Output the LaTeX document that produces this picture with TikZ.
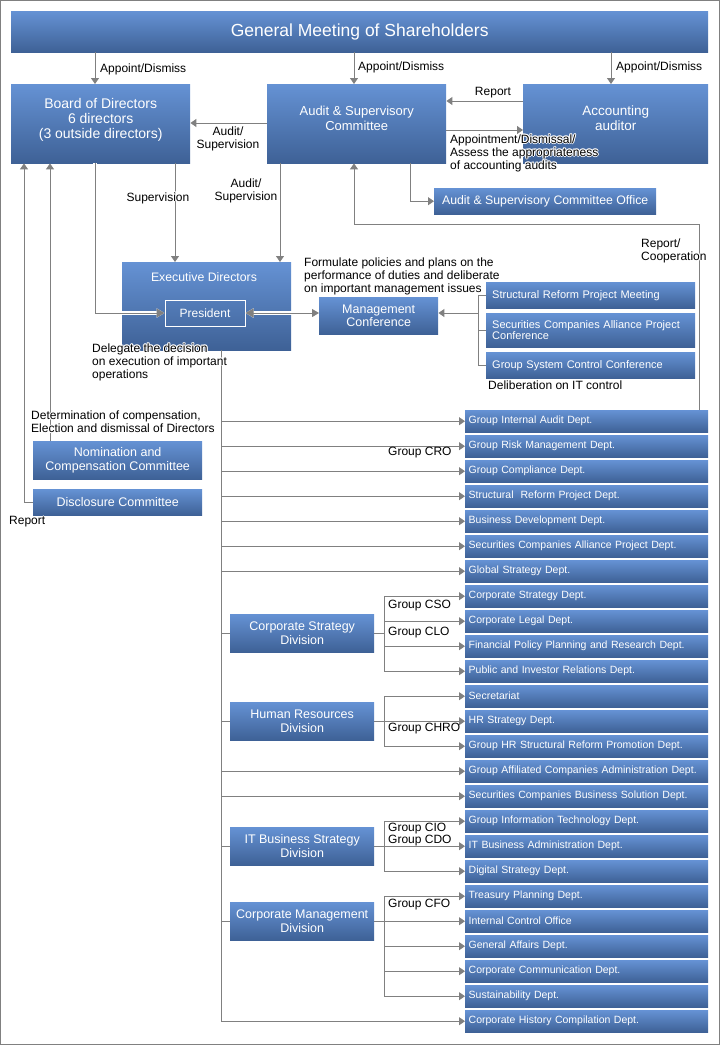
\documentclass[tikz,border=0pt]{standalone}
\usepackage{fontspec}
\setmainfont{Liberation Sans}
\usetikzlibrary{arrows.meta,calc}
\definecolor{bxtop}{RGB}{101,146,212}
\definecolor{bxbot}{RGB}{62,97,150}
\definecolor{lncol}{RGB}{128,128,128}
\tikzset{
  box/.style={anchor=north west, top color=bxtop, bottom color=bxbot, draw=none, text=white, inner sep=0pt, align=center},
  btxt/.style={text=white, inner sep=0pt, align=center},
  dept/.style={box, minimum width=243pt, minimum height=22pt, text width=236pt, inner xsep=3.5pt, align=left, font=\fontsize{10.5}{12}\selectfont},
  conf/.style={box, minimum width=209pt, text width=197pt, inner xsep=6pt, align=left, font=\fontsize{11}{11}\selectfont},
  divbox/.style={box, minimum width=144pt, minimum height=38pt, font=\fontsize{12.5}{14}\selectfont},
  ln/.style={draw=lncol, line width=1pt},
  arr/.style={ln, -{Triangle[width=8pt,length=6pt]}},
  harr/.style={ln, preaction={draw=white, line width=3.5pt}, -{Triangle[width=9pt,length=8pt]}},
  harrb/.style={ln, preaction={draw=white, line width=3.5pt}, {Triangle[width=9pt,length=8pt]}-{Triangle[width=8pt,length=7pt]}},
  lbl/.style={font=\fontsize{12}{13}\selectfont, inner sep=0pt, text=black, align=left},
}
\newcommand\hlbl[4]{%
  \foreach \hx/\hy in {-1/0,1/0,0/-1,0/1,-0.7/-0.7,0.7/0.7,-0.7/0.7,0.7/-0.7}{%
    \node[lbl,#3,text=white] at ([shift={(\hx pt,\hy pt)}]#2) {#4};}%
  \node[lbl,#3] (#1) at (#2) {#4};}
\begin{document}
\begin{tikzpicture}[x=1pt,y=-1pt]
\useasboundingbox (0,0) rectangle (720,1045);
\draw[draw=lncol, line width=1pt] (0.5,0.5) rectangle (719,1044);

% helper coordinates
\coordinate (c24) at (24,0);
\coordinate (c50) at (50,0);
\coordinate (c95) at (95,0);
\coordinate (c175) at (175,0);
\coordinate (tx) at (221,0);
\coordinate (c280) at (280,0);
\coordinate (c354) at (354,0);
\coordinate (bx) at (384,0);
\coordinate (c410) at (410,0);
\coordinate (c478) at (478,0);
\coordinate (c611) at (611,0);
\coordinate (c699) at (699,0);
\coordinate (r101) at (0,101);
\coordinate (r123) at (0,123);
\coordinate (r130) at (0,130);
\coordinate (r313) at (0,313);
\coordinate (rc1) at (699,224);
\coordinate (rc2) at (354,224);

% boxes
\node[box, minimum width=697pt, minimum height=41pt, font=\fontsize{17.5}{20}\selectfont] (gms) at (11,11) {General Meeting of Shareholders};
\node[box, minimum width=179pt, minimum height=79pt] (board) at (11,84) {};
\node[btxt, font=\fontsize{14}{15}\selectfont] (boardT) at ([yshift=3.5pt]board.center) {Board of Directors\\6 directors\\(3 outside directors)};
\node[box, minimum width=179pt, minimum height=79pt] (asc) at (267,84) {};
\node[btxt, font=\fontsize{13}{15}\selectfont] (ascT) at ([yshift=5pt]asc.center) {Audit \& Supervisory\\Committee};
\node[box, minimum width=185pt, minimum height=79pt] (acc) at (523,84) {};
\node[btxt, font=\fontsize{13.5}{15}\selectfont] (accT) at ([yshift=6pt]acc.center) {Accounting\\auditor};
\node[box, minimum width=222pt, minimum height=26pt, font=\fontsize{12.3}{14}\selectfont] (office) at (434,188) {Audit \& Supervisory Committee Office};
\node[box, minimum width=169pt, minimum height=88pt] (exec) at (122,262) {};
\node[btxt, font=\fontsize{12.3}{14}\selectfont] (execT) at (204,277) {Executive Directors};
\node[draw=white, line width=1pt, text=white, minimum width=80pt, minimum height=26pt, inner sep=0pt, font=\fontsize{12}{14}\selectfont] (pres) at (205,313) {President};
\node[box, minimum width=119pt, minimum height=37pt, font=\fontsize{12.5}{13}\selectfont] (mgmt) at (319,297) {Management\\Conference};
\node[conf, minimum height=26pt] (cf1) at (486,282) {Structural Reform Project Meeting};
\node[conf, minimum height=34pt] (cf2) at (486,313) {Securities Companies Alliance Project\\Conference};
\node[conf, minimum height=26pt] (cf3) at (486,352) {Group System Control Conference};
\node[box, minimum width=169pt, minimum height=38pt, font=\fontsize{12.5}{13.4}\selectfont] (nom) at (33,441) {Nomination and\\Compensation Committee};
\node[box, minimum width=169pt, minimum height=26pt, font=\fontsize{12.5}{14}\selectfont] (disc) at (33,489) {Disclosure Committee};
\node[divbox] (dcs) at (230,614) {Corporate Strategy\\Division};
\node[divbox] (dhr) at (230,702) {Human Resources\\Division};
\node[divbox] (dit) at (230,827) {IT Business Strategy\\Division};
\node[divbox] (dcm) at (230,902) {Corporate Management\\Division};

\foreach \i/\t in {0/{Group Internal Audit Dept.},1/{Group Risk Management Dept.},2/{Group Compliance Dept.},3/{Structural\ \ Reform Project Dept.},4/{Business Development Dept.},5/{Securities Companies Alliance Project Dept.},6/{Global Strategy Dept.},7/{Corporate Strategy Dept.},8/{Corporate Legal Dept.},9/{Financial Policy Planning and Research Dept.},10/{Public and Investor Relations Dept.},11/{Secretariat},12/{HR Strategy Dept.},13/{Group HR Structural Reform Promotion Dept.},14/{Group Affiliated Companies Administration Dept.},15/{Securities Companies Business Solution Dept.},16/{Group Information Technology Dept.},17/{IT Business Administration Dept.},18/{Digital Strategy Dept.},19/{Treasury Planning Dept.},20/{Internal Control Office},21/{General Affairs Dept.},22/{Corporate Communication Dept.},23/{Sustainability Dept.},24/{Corporate History Compilation Dept.}}{
  \node[dept] (d\i) at (465,{410+25*\i}) {\t};
}

% connectors top
\draw[arr] (gms.south -| c95) -- (board.north -| c95);
\draw[arr] (gms.south -| c354) -- (asc.north -| c354);
\draw[arr] (gms.south -| c611) -- (acc.north -| c611);
\draw[arr] (asc.west |- r123) -- (board.east |- r123);
\draw[arr] (acc.west |- r101) -- (asc.east |- r101);
\draw[arr] (asc.east |- r130) -- (acc.west |- r130);
\draw[arr] (board.south -| c175) -- (exec.north -| c175);
\draw[arr] (asc.south -| c280) -- (exec.north -| c280);
\draw[arr] (asc.south -| c410) |- (office.west);
\draw[arr] (d0.north -| c699) -- (rc1) -- (rc2) -- (asc.south -| c354);
\draw[harr] (board.south -| c95) |- (pres.west);
\draw[harrb] (pres.east) -- (pres.east -| mgmt.west);
% conferences
\draw[ln] (cf1.west -| c478) -- (cf1.west);
\draw[ln] (cf2.west -| c478) -- (cf2.west);
\draw[ln] (cf3.west -| c478) -- (cf3.west);
\draw[ln] (cf1.west -| c478) -- (cf3.west -| c478);
\draw[arr] (c478 |- r313) -- (mgmt.east |- r313);
% committees
\draw[arr] (nom.north -| c50) -- (board.south -| c50);
\draw[arr] (disc.west) -| (board.south -| c24);

% trunk
\draw[arr] (exec.south -| tx) |- (d24.west);
\foreach \i in {0,...,6,14,15}{\draw[arr] (d\i.west -| tx) -- (d\i.west);}
\foreach \n in {dcs,dhr,dit,dcm}{\draw[ln] (\n.west -| tx) -- (\n.west);}
% corporate strategy
\draw[ln] (dcs.east) -- (dcs.east -| bx);
\draw[arr] (dcs.east -| bx) |- (d7.west);
\draw[arr] (dcs.east -| bx) |- (d10.west);
\draw[arr] (d8.west -| bx) -- (d8.west);
\draw[arr] (d9.west -| bx) -- (d9.west);
% HR
\draw[arr] (dhr.east) -- (d12.west);
\draw[arr] (dhr.east -| bx) |- (d11.west);
\draw[arr] (dhr.east -| bx) |- (d13.west);
% IT
\draw[arr] (dit.east) -- (d17.west);
\draw[arr] (dit.east -| bx) |- (d16.west);
\draw[arr] (dit.east -| bx) |- (d18.west);
% CM
\draw[arr] (dcm.east) -- (d20.west);
\draw[arr] (dcm.east -| bx) |- (d19.west);
\draw[arr] (dcm.east -| bx) |- (d23.west);
\draw[arr] (d21.west -| bx) -- (d21.west);
\draw[arr] (d22.west -| bx) -- (d22.west);

% labels
\hlbl{l1}{100,69}{anchor=west}{Appoint/Dismiss}
\hlbl{l2}{358,67}{anchor=west}{Appoint/Dismiss}
\hlbl{l3}{616,67}{anchor=west}{Appoint/Dismiss}
\hlbl{l4}{228,139}{align=center}{Audit/\\Supervision}
\hlbl{l5}{493,93}{}{Report}
\hlbl{l6}{450,153}{anchor=west}{Appointment/Dismissal/\\Assess the appropriateness\\of accounting audits}
\hlbl{l7}{158,198}{}{Supervision}
\hlbl{l8}{246,191}{align=center}{Audit/\\Supervision}
\hlbl{l9}{641,251}{anchor=west}{Report/\\Cooperation}
\hlbl{l10}{304,276}{anchor=west}{Formulate policies and plans on the\\performance of duties and deliberate\\on important management issues}
\hlbl{l11}{488,385}{anchor=west}{Deliberation on IT control}
\hlbl{l12}{92,362}{anchor=west}{Delegate the decision\\on execution of important\\operations}
\hlbl{l13}{31,422}{anchor=west}{Determination of compensation,\\Election and dismissal of Directors}
\hlbl{l14}{9,522}{anchor=west}{Report}
\node[lbl, anchor=west] (g1) at (388,453) {Group CRO};
\node[lbl, anchor=west] (g2) at (388,606) {Group CSO};
\node[lbl, anchor=west] (g3) at (388,633) {Group CLO};
\node[lbl, anchor=west] (g4) at (388,729) {Group CHRO};
\node[lbl, anchor=west, font=\fontsize{12}{12}\selectfont] (g5) at (388,835) {Group CIO\\Group CDO};
\node[lbl, anchor=west] (g6) at (388,905) {Group CFO};
\end{tikzpicture}
\end{document}
